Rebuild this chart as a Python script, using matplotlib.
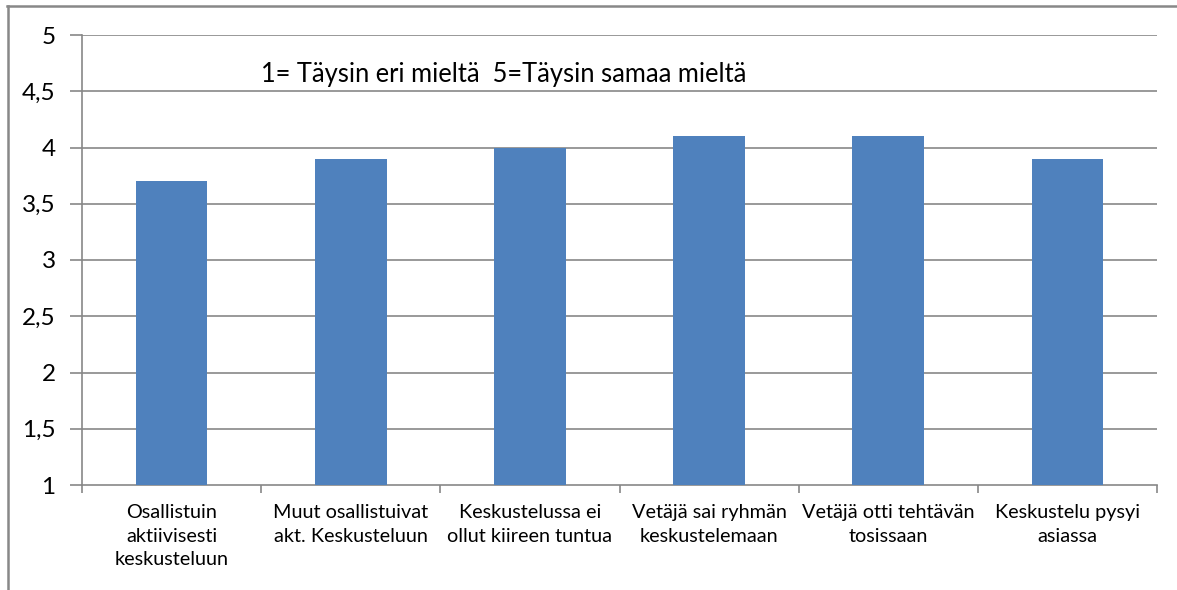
import matplotlib
matplotlib.use("Agg")
import matplotlib.pyplot as plt
from matplotlib.lines import Line2D
import numpy as np

categories = [
    "Osallistuin\naktiivisesti\nkeskusteluun",
    "Muut osallistuivat\nakt. Keskusteluun",
    "Keskustelussa ei\nollut kiireen tuntua",
    "Vetäjä sai ryhmän\nkeskustelemaan",
    "Vetäjä otti tehtävän\ntosissaan",
    "Keskustelu pysyi\nasiassa",
]
values = [3.7, 3.9, 4.0, 4.1, 4.1, 3.9]
yticks = [1, 1.5, 2, 2.5, 3, 3.5, 4, 4.5, 5]
ytick_labels = ["1", "1,5", "2", "2,5", "3", "3,5", "4", "4,5", "5"]
note = "1= Täysin eri mieltä  5=Täysin samaa mieltä"

plt.rcParams['font.family'] = ['Lato', 'DejaVu Sans']

W, H = 1177, 590
fig = plt.figure(figsize=(W / 100, H / 100), dpi=100)
fig.patch.set_facecolor('white')

L, R, T, B = 82, 1157, 35, 485
ax = fig.add_axes([L / W, (H - B) / H, (R - L) / W, (B - T) / H])

grid_c = '#878787'
n = len(categories)
x = np.arange(n)
ax.bar(x, [v - 1 for v in values], bottom=1, width=0.4, color='#4F81BD', zorder=3)
ax.set_xlim(-0.5, n - 0.5)
ax.set_ylim(1, 5)

for yv in yticks[1:]:
    ax.axhline(yv, color=grid_c, lw=1.2, zorder=1)

ax.set_yticks(yticks)
ax.set_yticklabels(ytick_labels, fontsize=17.5)
ax.tick_params(axis='y', length=9, width=1.2, color=grid_c, pad=10)

ax.set_xticks(np.arange(-0.5, n, 1.0))
ax.set_xticklabels([])
ax.tick_params(axis='x', which='major', length=6, width=1.2, color=grid_c)
ax.set_xticks(x, minor=True)
ax.set_xticklabels(categories, minor=True, fontsize=14.3, linespacing=1.45)
ax.tick_params(axis='x', which='minor', length=0, pad=14)

for s in ['top', 'right']:
    ax.spines[s].set_visible(False)
for s in ['left', 'bottom']:
    ax.spines[s].set_color(grid_c)
    ax.spines[s].set_linewidth(1.2)

ax.text(261 / W, (H - 82) / H, note, transform=fig.transFigure, fontsize=18.4,
        ha='left', va='baseline', color='black')

fig.add_artist(Line2D([7.5 / W, 7.5 / W], [0, (H - 6) / H], color='#888888', lw=1.8,
                      transform=fig.transFigure))
fig.add_artist(Line2D([7 / W, 1], [(H - 6) / H, (H - 6) / H], color='#888888', lw=1.8,
                      transform=fig.transFigure))

fig.savefig('out.png', dpi=100)
